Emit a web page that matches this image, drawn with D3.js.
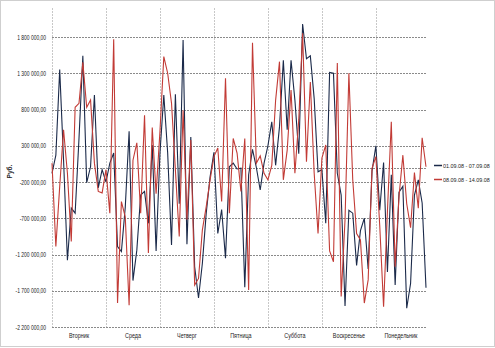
<!DOCTYPE html>
<html>
<head>
<meta charset="utf-8">
<script src="https://cdn.jsdelivr.net/npm/d3@7"></script>
<style>
  html, body { margin: 0; padding: 0; background: #fff; }
  svg { display: block; }
  text { font-family: "Liberation Sans", Arial, sans-serif; fill: #222; }
</style>
</head>
<body>
<svg id="chart" width="495" height="348"></svg>
<script>
// ---- data ----
const days = ["Вторник", "Среда", "Четверг", "Пятница", "Суббота", "Воскресенье", "Понедельник"];
const pointsPerDay = 14;
const seriesNames = ["01.09.08 - 07.09.08", "08.09.08 - 14.09.08"];
const week1 = [
  -80000, 170000, 1350000, 100000, -1280000, -560000, -630000, 400000, 1540000, -210000, 10000, 1000000, -280000, -30000,
  -200000, 60000, 200000, -1090000, -1160000, -550000, 500000, -1560000, -1140000, -380000, -330000, -770000, 310000, -1150000,
  200000, 1000000, 200000, -1070000, 1010000, -500000, 1760000, -1060000, 420000, -1370000, -1800000, -1320000, -630000, -130000,
  210000, -910000, -580000, -1250000, 10000, 60000, -20000, -10000, -1650000, -100000, 250000, 0, -310000, 60000,
  300000, 630000, 30000, 560000, 1480000, 520000, 1480000, 930000, 190000, 1980000, 1500000, 1540000, 950000, -60000,
  -30000, -770000, 1310000, 1300000, -80000, -380000, -1910000, -590000, -630000, -1350000, -870000, -700000, -1400000, -50000,
  300000, -590000, 70000, -1440000, -100000, -1620000, -340000, -260000, -1940000, -1600000, -380000, -170000, -490000, -1660000
];
const week2 = [
  60000, -1090000, -260000, 520000, -80000, -1020000, 830000, 885000, 1450000, 830000, 930000, 60000, -330000, -350000,
  -30000, -630000, 1770000, -1870000, -470000, -680000, -1900000, 100000, 340000, -630000, 720000, -1180000, 550000, -360000,
  500000, 1530000, 1300000, 885000, -30000, -950000, 790000, -720000, 380000, -1620000, -1530000, -860000, -540000, -170000,
  150000, 270000, -470000, 1230000, -630000, 400000, 200000, -330000, 400000, -1690000, 1720000, 60000, 160000, -80000,
  -170000, 30000, 930000, 1460000, -170000, 240000, 1070000, -80000, 660000, 1850000, 80000, 1180000, -80000, -910000,
  130000, 310000, -1150000, -1300000, 1440000, -1780000, -720000, 1300000, -170000, -910000, -1000000, -1870000, -1550000, -10000,
  150000, -800000, -1920000, -600000, 630000, -1370000, -400000, 170000, -500000, -830000, -70000, -560000, 410000, 10000
];
const yTicks = [-2200000, -1700000, -1200000, -700000, -200000, 300000, 800000, 1300000, 1800000];
const yDomain = [-2200000, 2200000];
const yTitle = "Руб.";
const colors = ["#1b2a4a", "#c23b36"];

// ---- layout ----
const svg = d3.select("#chart");
const W = 495, H = 348;
const plot = { left: 52, right: 426, top: 8, bottom: 327 };

const n = week1.length;
const x = d3.scaleLinear().domain([0, n - 1]).range([plot.left, plot.right]);
const y = d3.scaleLinear().domain(yDomain).range([plot.bottom, plot.top]);

const ru = d3.formatLocale({ decimal: ",", thousands: " ", grouping: [3], currency: ["", ""], minus: "-" });
const fmt = ru.format(",.2f");

// squeeze text horizontally (narrow font look)
function condense(sel, factor) {
  sel.each(function () {
    const w = this.getComputedTextLength();
    d3.select(this).attr("textLength", w * factor).attr("lengthAdjust", "spacingAndGlyphs");
  });
}

// outer border
svg.append("rect")
  .attr("x", 0.5).attr("y", 0.5).attr("width", W - 1).attr("height", H - 2)
  .attr("fill", "#fff").attr("stroke", "#cfcfcf").attr("stroke-width", 1);

// vertical day grid lines
const boundaries = d3.range(0, n, pointsPerDay);
svg.append("g").selectAll("line").data(boundaries).join("line")
  .attr("x1", d => Math.round(x(d)) + 0.5).attr("x2", d => Math.round(x(d)) + 0.5)
  .attr("y1", plot.top).attr("y2", plot.bottom)
  .attr("stroke", "#c8c8c8").attr("stroke-width", 1).attr("stroke-dasharray", "2,1");

// horizontal grid lines + zero line
svg.append("g").selectAll("line").data(yTicks.concat([0])).join("line")
  .attr("x1", plot.left).attr("x2", plot.right)
  .attr("y1", d => Math.round(y(d)) + 0.5).attr("y2", d => Math.round(y(d)) + 0.5)
  .attr("stroke", "#8a8a8a").attr("stroke-width", 1).attr("stroke-dasharray", "2,1");

// y axis labels
const yAxis = d3.axisLeft(y).tickValues(yTicks).tickFormat(fmt).tickSize(0).tickPadding(0);
const gy = svg.append("g").attr("transform", `translate(${plot.left - 6},0)`).call(yAxis);
gy.select(".domain").remove();
gy.selectAll("text").attr("font-size", 6.5).attr("fill", "#222")
  .style("font-family", '"Liberation Sans", Arial, sans-serif');
condense(gy.selectAll("text"), 0.76);

// y title
svg.append("text")
  .attr("transform", `translate(12,${(plot.top + plot.bottom) / 2 + 4}) rotate(-90)`)
  .attr("text-anchor", "middle").attr("font-size", 6.5).attr("font-weight", "bold")
  .text(yTitle);

// x day labels
const xl = svg.append("g").selectAll("text").data(days).join("text")
  .attr("x", (d, i) => (x(i * pointsPerDay) + x(Math.min((i + 1) * pointsPerDay, n - 1))) / 2)
  .attr("y", 338)
  .attr("text-anchor", "middle").attr("font-size", 6.5)
  .text(d => d);
condense(xl, 0.83);

// lines
const line = d3.line().x((d, i) => x(i)).y(d => y(d));
[week1, week2].forEach((s, k) => {
  svg.append("path").datum(s)
    .attr("d", line)
    .attr("fill", "none")
    .attr("stroke", colors[k])
    .attr("stroke-width", 1.1)
    .attr("stroke-linejoin", "miter");
});

// legend
const lg = svg.append("g");
seriesNames.forEach((name, k) => {
  const ly = 165.5 + k * 14;
  lg.append("line").attr("x1", 434).attr("x2", 442).attr("y1", ly).attr("y2", ly)
    .attr("stroke", colors[k]).attr("stroke-width", 1.5);
  const t = lg.append("text").attr("x", 443).attr("y", ly + 2.2).attr("font-size", 6).text(name);
  condense(t, 0.9);
});
</script>
</body>
</html>
